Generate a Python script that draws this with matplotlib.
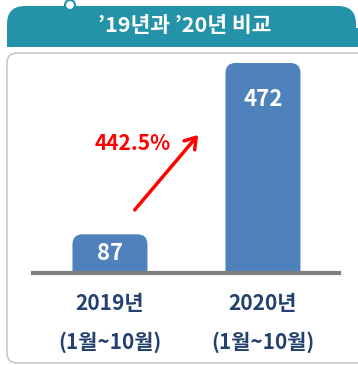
import matplotlib
matplotlib.use("Agg")
import matplotlib.pyplot as plt
from matplotlib.patches import FancyBboxPatch, Rectangle, Circle, PathPatch
from matplotlib.path import Path

plt.rcParams['font.family'] = ['Noto Sans CJK KR', 'DejaVu Sans']

# data
years = ['2019년', '2020년']
periods = ['(1월~10월)', '(1월~10월)']
counts = [87, 472]
growth_label = '442.5%'
title = '’19년과 ’20년 비교'

W, H = 358, 365
bar_color = '#4F81BD'
teal = '#2492A8'
navy = '#24406F'

fig = plt.figure(figsize=(W / 100, H / 100), dpi=100)

# background layer in pixel units
bg = fig.add_axes([0, 0, 1, 1])
bg.set_xlim(0, W)
bg.set_ylim(H, 0)
bg.axis('off')

# outer frame below the header
bg.add_patch(FancyBboxPatch((7, 53), 380, 310, boxstyle='round,pad=0,rounding_size=10',
                            fc='white', ec='#C8C8C8', lw=1.2))
# header band
bg.add_patch(FancyBboxPatch((7, 6), 349, 41, boxstyle='round,pad=0,rounding_size=18',
                            fc=teal, ec='none'))
bg.add_patch(Rectangle((7, 28), 351, 19, fc=teal, ec='none'))
bg.add_patch(Circle((70, 5), 5, fc='white', ec=teal, lw=1.5, zorder=3))
bg.text(185, 26, title, color='white', fontsize=15.5, fontweight='bold',
        ha='center', va='center')

# bar chart area: baseline at y=273px, top at 63px
base_px, top_px = 273, 63
left_px, right_px = 33, 339
ax = fig.add_axes([left_px / W, (H - base_px) / H, (right_px - left_px) / W,
                   (base_px - top_px) / H])
ax.set_xlim(-0.503, 1.497)
ax.set_ylim(0, 472)
ax.axis('off')

px_x = (right_px - left_px) / 2.0      # pixels per x unit
px_y = (base_px - top_px) / 472.0      # pixels per y unit
w = 75 / px_x
rx, ry = 10 / px_x, 10 / px_y


def top_rounded_bar(x, h):
    x0, x1 = x - w / 2, x + w / 2
    verts = [(x0, 0), (x0, h - ry), (x0, h), (x0 + rx, h), (x1 - rx, h),
             (x1, h), (x1, h - ry), (x1, 0), (x0, 0)]
    codes = [Path.MOVETO, Path.LINETO, Path.CURVE3, Path.CURVE3, Path.LINETO,
             Path.CURVE3, Path.CURVE3, Path.LINETO, Path.CLOSEPOLY]
    ax.add_patch(PathPatch(Path(verts, codes), fc=bar_color, ec='none'))


for i, v in enumerate(counts):
    top_rounded_bar(i, v)
    # value label near the top, or centred when the bar is short
    ly = max(v / 2, v - 37 / px_y)
    ax.text(i, ly, str(v), color='white', fontsize=16, fontweight='bold',
            ha='center', va='center')
    ax.text(i, -31 / px_y, years[i], color=navy, fontsize=15, fontweight='bold',
            ha='center', va='center', clip_on=False)
    ax.text(i, -69 / px_y, periods[i], color=navy, fontsize=15, fontweight='bold',
            ha='center', va='center', clip_on=False)

ax.axhline(0, color='#7F7F7F', lw=3, clip_on=False)

# growth arrow
ax.annotate('', xy=(0.588, 315), xytext=(0.15, 137),
            arrowprops=dict(arrowstyle='->,head_length=0.75,head_width=0.5',
                            color='#FF0000', lw=2.5))
ax.text(0.15, 292, growth_label, color='#FF0000', fontsize=15, fontweight='bold',
        ha='center', va='center')

fig.savefig('out.png', dpi=100)
